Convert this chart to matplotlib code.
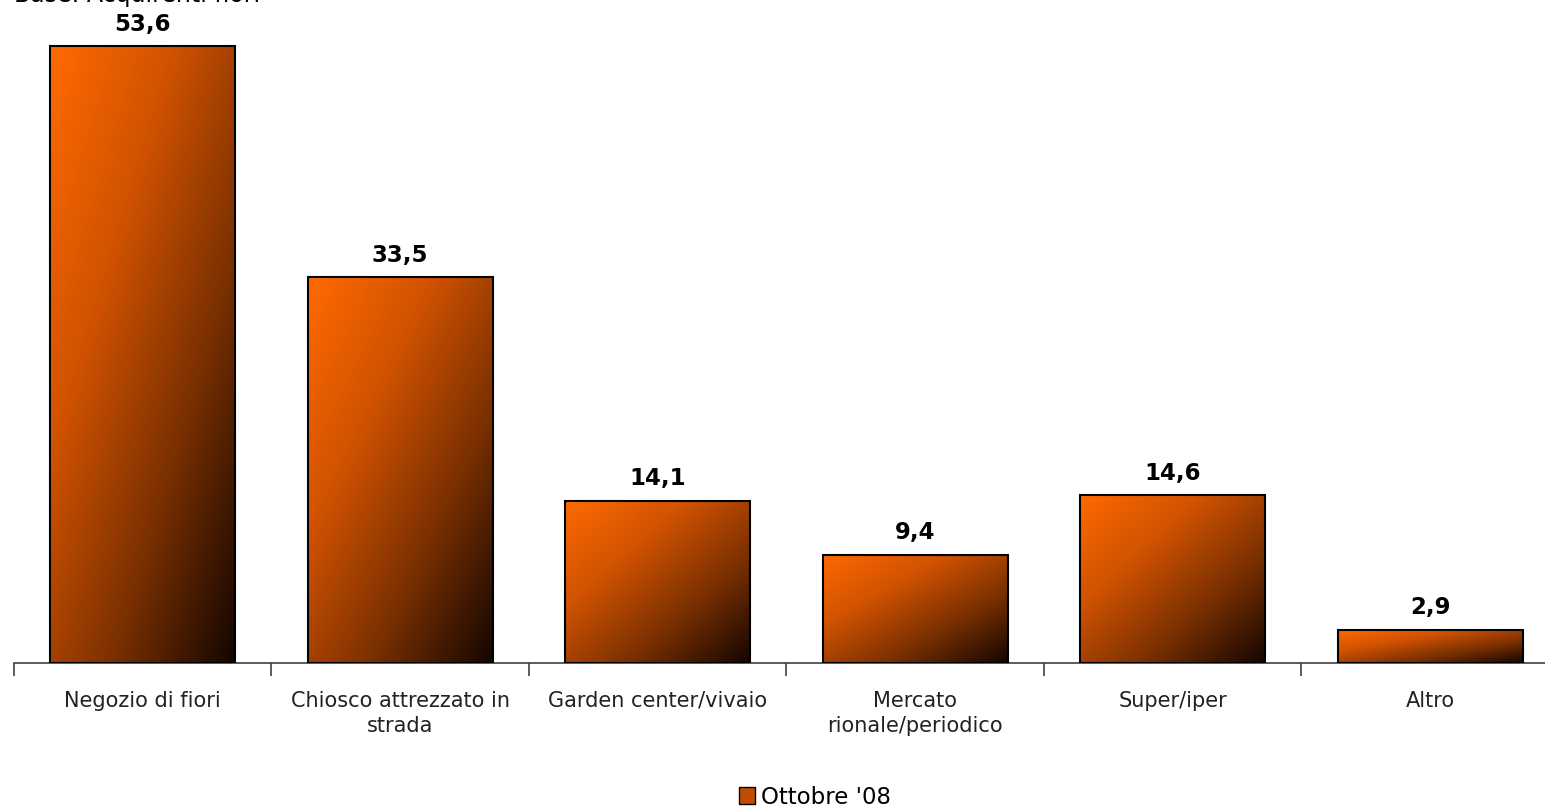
import numpy as np
import matplotlib.pyplot as plt
from matplotlib.colors import LinearSegmentedColormap
from matplotlib.patches import Rectangle

categories = ["Negozio di fiori", "Chiosco attrezzato in\nstrada", "Garden center/vivaio",
              "Mercato\nrionale/periodico", "Super/iper", "Altro"]
values = [53.6, 33.5, 14.1, 9.4, 14.6, 2.9]
labels = ["53,6", "33,5", "14,1", "9,4", "14,6", "2,9"]
series_name = "Ottobre '08"

cmap = LinearSegmentedColormap.from_list("arancio", ["#ff6a00", "#d05200", "#7a3000", "#140600"])

fig = plt.figure(figsize=(15.45, 8.1), dpi=100)
ax = fig.add_axes([14 / 1545, 147 / 810, 1545 / 1545, 663 / 810])

x = np.arange(len(values))
bars = ax.bar(x, values, width=0.72, color="none", edgecolor="black", linewidth=1.5, zorder=3)

# diagonal gradient for each bar
grad = np.add.outer(np.linspace(0, 1, 100), np.linspace(0, 1, 100)) / 2
for b in bars:
    x0, y0 = b.get_x(), b.get_y()
    w, h = b.get_width(), b.get_height()
    im = ax.imshow(grad, cmap=cmap, extent=[x0, x0 + w, y0, y0 + h], origin="upper",
                   aspect="auto", zorder=2, interpolation="bilinear")
    im.set_clip_path(b)

for xi, v, lab in zip(x, values, labels):
    ax.text(xi, v + 0.9, lab, ha="center", va="bottom", fontsize=16.5, fontweight="bold")

ax.set_xlim(-0.5, 5.5)
ax.set_ylim(0, 57.6)
ax.set_yticks([])
for s in ["top", "right", "left"]:
    ax.spines[s].set_visible(False)
ax.spines["bottom"].set_color("#404040")
ax.spines["bottom"].set_linewidth(1.2)

ax.set_xticks(np.arange(-0.5, 6.0, 1.0))
ax.set_xticklabels([])
ax.set_xticks(x, minor=True)
ax.set_xticklabels(categories, minor=True, fontsize=15, color="#222222", linespacing=1.3)
ax.tick_params(axis="x", which="major", length=9, color="#404040", width=1.2)
ax.tick_params(axis="x", which="minor", length=0, pad=20)

# legend
handle = Rectangle((0, 0), 1, 1, facecolor="#c24d00", edgecolor="black")
fig.legend([handle], [series_name], loc="center", bbox_to_anchor=(815 / 1545, 13 / 810),
           frameon=False, fontsize=16.5, handlelength=0.7, handleheight=0.7, handletextpad=0.3)

fig.text(14 / 1545, 1.0 + 5 / 810, "Base: Acquirenti fiori", ha="left", va="center", fontsize=17)

fig.savefig("out.png", dpi=100)
